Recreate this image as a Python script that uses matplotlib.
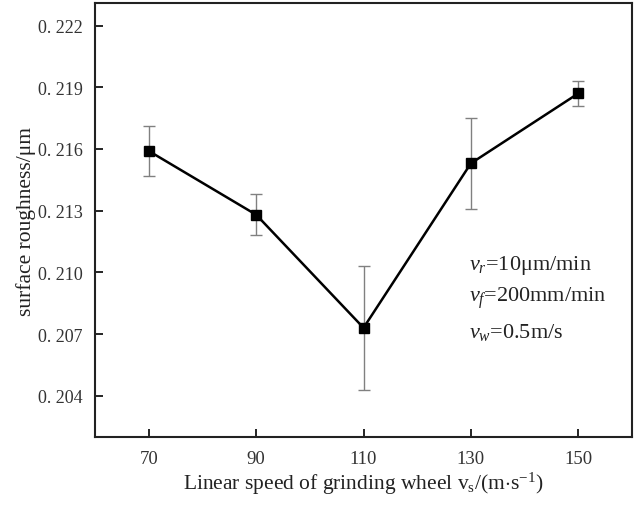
import matplotlib
matplotlib.use("Agg")
import matplotlib.pyplot as plt
from matplotlib.ticker import FuncFormatter

plt.rcParams['font.family'] = ['Liberation Serif', 'DejaVu Serif']
plt.rcParams['mathtext.fontset'] = 'custom'
plt.rcParams['mathtext.rm'] = 'Liberation Serif'
plt.rcParams['mathtext.it'] = 'Liberation Serif:italic'

speed = [70, 90, 110, 130, 150]
roughness = [0.2159, 0.2128, 0.2073, 0.2153, 0.2187]
error = [0.0012, 0.0010, 0.0030, 0.0022, 0.0006]
yticks = [0.204, 0.207, 0.210, 0.213, 0.216, 0.219, 0.222]

fig = plt.figure(figsize=(6.35, 5.06), dpi=100)
ax = fig.add_axes([0.150, 0.134, 0.845, 0.858])

ax.errorbar(speed, roughness, yerr=error, fmt='none', ecolor='#808080',
            elinewidth=1.0, capsize=4, capthick=1.0, zorder=2)
ax.plot(speed, roughness, color='black', lw=1.8, marker='s', ms=7,
        mfc='black', mec='black', zorder=3)

ax.set_xlim(60, 160)
ax.set_ylim(0.20198, 0.2231)
ax.set_xticks(speed)
ax.set_yticks(yticks)
ax.yaxis.set_major_formatter(FuncFormatter(lambda v, p: f"0. {round(v*1000):d}"))
ax.tick_params(axis='y', direction='in', length=6, width=1.2, labelsize=13, pad=9,
               colors='black', labelcolor='#333333')
ax.tick_params(axis='x', direction='in', length=6, width=1.2, labelsize=13.5, pad=9,
               colors='black', labelcolor='#333333')
for s in ax.spines.values():
    s.set_linewidth(1.5)
    s.set_color('#222222')

ax.set_xlabel(r'Linear speed of grinding wheel v$_{\rm s}$/(m$\cdot$s$^{-1}$)',
              fontsize=15.5, color='#222222', labelpad=2)
ax.set_ylabel('surface roughness/μm', fontsize=15.5, color='#222222', labelpad=1)

ax.text(129.6, 0.21039, r'$v_r$=10μm/min', fontsize=16, va='center', color='#222222')
ax.text(129.6, 0.20878, r'$v_f$=200mm/min', fontsize=16, va='center', color='#222222')
ax.text(129.6, 0.20712, r'$v_w$=0.5m/s', fontsize=16, va='center', color='#222222')

fig.savefig('out.png', dpi=100)
